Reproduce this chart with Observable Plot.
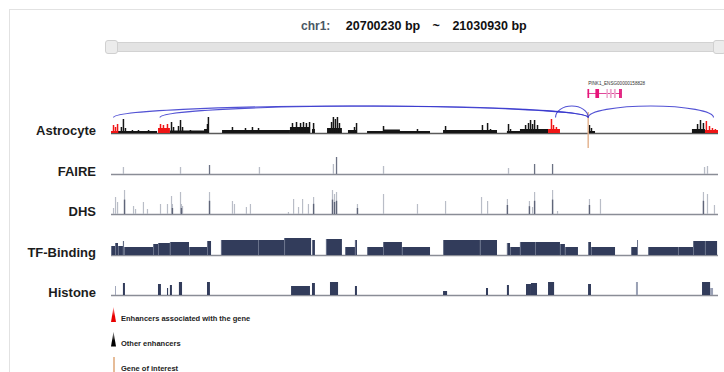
<!DOCTYPE html>
<html><head><meta charset="utf-8">
<script src="https://cdn.jsdelivr.net/npm/d3@7"></script>
<script src="https://cdn.jsdelivr.net/npm/@observablehq/plot@0.6"></script>
<style>
body{margin:0;background:#fff;font-family:Arial,"Liberation Sans",Helvetica,sans-serif;}
#root{position:relative;width:724px;height:372px;overflow:hidden;background:#fff;}
.abs{position:absolute;}
.abs svg{display:block;overflow:visible;}
</style></head><body><div id="root"></div>
<script>
// ---------------- DATA (positions in kb from the window start) ----------------
const chrom = "chr1";
const viewStart = 20700230;
const viewEnd = 21030930;

const trackLabels = ["Astrocyte", "FAIRE", "DHS", "TF-Binding", "Histone"];
const legendLabels = ["Enhancers associated with the gene", "Other enhancers", "Gene of interest"];

const geneLabel = "PINK1_ENSG00000158828";
const geneStartKb = 259.7;
const geneEndKb = 277.8;
// [start, end, tone]
const geneExons = [
  [259.7, 260.5, "dark"], [263.9, 265.9, "dark"], [269.9, 270.7, "light"],
  [271.8, 272.8, "light"], [274.0, 275.0, "light"], [276.8, 277.8, "dark"]
];

// enhancers linked to the gene (arc anchors)
const enhancerLinks = [1.1, 26.4, 241.9, 328.0];

// Astrocyte enhancer blocks: [start, end, height, group]
const astroBlocks = [
  [0.0, 3.8, 2, "assoc"], [3.8, 25.1, 2, "other"], [25.6, 32.1, 5, "assoc"],
  [32.1, 51.2, 2.5, "other"], [50.7, 53.4, 4, "other"], [60.5, 97.5, 3, "other"],
  [97.5, 108.4, 6, "other"], [109.5, 111.1, 4, "other"], [117.7, 125.8, 5, "other"],
  [129.1, 134.0, 3, "other"], [139.5, 173.8, 2, "other"], [148.2, 157.4, 3.5, "other"],
  [180.9, 210.3, 3, "other"], [215.7, 238.1, 2, "other"], [222.8, 238.1, 4, "other"],
  [238.1, 244.6, 4, "assoc"], [259.9, 263.7, 2, "other"], [316.5, 323.6, 4, "other"],
  [323.6, 330.7, 3, "assoc"]
];
// Astrocyte signal peaks: [position, height, group]
const astroPeaks = [
  [1.1, 8, "assoc"], [2.2, 6, "assoc"], [3.3, 9, "assoc"],
  [5.4, 6, "other"], [6.5, 14, "other"], [7.6, 5, "other"], [11.4, 3, "other"], [14.7, 3, "other"], [20.2, 3, "other"],
  [26.7, 9, "assoc"], [28.3, 8, "assoc"], [30.5, 9, "assoc"],
  [32.7, 11, "other"], [33.8, 6, "other"], [36.5, 7, "other"], [37.6, 13, "other"], [38.7, 6, "other"], [43.0, 3, "other"],
  [52.3, 9, "other"], [52.8, 16, "other"],
  [65.9, 6, "other"], [73.0, 5, "other"], [76.8, 6, "other"], [80.1, 5, "other"],
  [98.6, 10, "other"], [100.8, 11, "other"], [103.0, 10, "other"], [104.6, 11, "other"], [106.2, 10, "other"], [107.9, 11, "other"],
  [110.1, 10, "other"],
  [119.9, 11, "other"], [120.9, 16, "other"], [122.0, 14, "other"], [123.1, 16, "other"], [124.2, 10, "other"],
  [132.4, 6, "other"], [133.5, 10, "other"],
  [148.2, 7, "other"], [166.7, 4, "other"],
  [182.0, 7, "other"], [202.1, 8, "other"], [204.9, 10, "other"], [206.5, 4, "other"],
  [216.3, 9, "other"], [217.4, 4, "other"],
  [225.6, 8, "other"], [227.2, 10, "other"], [228.3, 13, "other"], [229.4, 9, "other"], [230.5, 13, "other"], [232.1, 8, "other"],
  [239.7, 14, "assoc"], [240.8, 8, "assoc"], [242.4, 6, "assoc"], [243.5, 4, "assoc"],
  [260.4, 8, "other"], [261.5, 5, "other"],
  [319.3, 9, "other"], [320.9, 13, "other"], [322.5, 10, "other"],
  [324.1, 12, "assoc"], [325.8, 7, "assoc"], [327.4, 5, "assoc"], [329.0, 4, "assoc"]
];

// FAIRE peaks: [position, height, tone]
const fairePeaks = [
  [6.5, 7, "light"], [37.6, 7, "light"], [53.4, 9, "dark"], [80.6, 7, "light"], [120.9, 10, "light"],
  [122.6, 17, "dark"], [148.2, 8, "light"], [216.3, 6, "light"], [230.5, 10, "dark"], [240.3, 10, "dark"],
  [323.1, 7, "light"], [324.7, 8, "light"]
];

// DHS peaks: [position, height, tone]
const dhsPeaks = [
  [1.1, 6, "light"], [2.2, 17, "light"], [3.3, 12, "light"], [7.1, 24, "dark"], [12.0, 8, "light"],
  [13.1, 5, "light"], [17.4, 12, "light"], [19.6, 5, "light"], [26.7, 10, "light"], [30.5, 10, "light"],
  [32.7, 18, "light"], [33.2, 10, "dark"], [37.6, 22, "light"], [38.1, 10, "dark"], [38.7, 8, "light"],
  [53.4, 22, "dark"], [65.9, 13, "light"], [67.0, 10, "light"], [73.5, 7, "light"], [75.7, 10, "light"],
  [96.4, 2, "light"], [99.2, 15, "light"], [101.9, 7, "light"], [104.1, 15, "light"], [107.3, 10, "light"],
  [110.1, 17, "dark"], [120.4, 24, "dark"], [121.5, 20, "dark"], [122.6, 22, "dark"], [134.0, 10, "dark"],
  [148.2, 20, "light"], [166.7, 10, "light"], [182.0, 13, "light"], [201.6, 17, "light"], [204.9, 13, "light"],
  [215.7, 15, "dark"], [227.7, 13, "dark"], [229.4, 7, "light"], [230.5, 22, "dark"], [240.3, 24, "dark"],
  [243.0, 3, "light"], [260.4, 15, "dark"], [266.4, 15, "light"], [322.5, 22, "dark"], [324.7, 20, "light"],
  [328.5, 9, "light"]
];

// TF-Binding blocks: [start, end, height]
const tfBlocks = [
  [0, 2.2, 9], [2.2, 3.8, 12], [3.8, 6.5, 9], [6.5, 7.1, 14], [7.1, 22.9, 8], [22.9, 25.6, 11],
  [25.6, 32.1, 12], [32.1, 42.5, 13], [42.5, 52.3, 8], [52.3, 54.5, 14], [59.9, 80.1, 15], [80.1, 94.3, 15],
  [94.3, 109.0, 17], [109.5, 111.1, 15], [117.1, 125.8, 16], [127.5, 132.9, 8], [132.9, 134.0, 15],
  [139.5, 148.2, 8], [148.2, 158.5, 13], [158.5, 173.8, 8], [180.9, 201.0, 15], [201.0, 210.3, 15],
  [215.7, 217.4, 12], [217.4, 222.8, 8], [222.8, 231.0, 13], [231.0, 244.6, 13], [244.6, 247.3, 11],
  [247.3, 254.4, 8], [259.9, 261.5, 13], [261.5, 274.6, 8], [283.3, 286.6, 8], [286.6, 287.1, 15],
  [292.6, 308.9, 8], [308.9, 317.1, 8], [317.1, 323.6, 14], [323.6, 330.2, 14]
];

// Histone blocks: [start, end, height, tone]
const histoneBlocks = [
  [2.2, 2.7, 9, "light"], [6.5, 7.6, 12, "dark"], [25.6, 27.2, 11, "dark"], [30.5, 31.1, 7, "dark"],
  [32.1, 33.2, 10, "dark"], [37.0, 38.7, 13, "dark"], [52.3, 53.9, 13, "dark"], [98.1, 108.4, 9, "dark"],
  [109.5, 111.1, 12, "dark"], [119.3, 123.7, 13, "dark"], [132.9, 134.0, 9, "dark"], [180.9, 183.1, 4, "dark"],
  [204.3, 205.4, 7, "dark"], [215.7, 216.8, 10, "dark"], [226.1, 228.8, 11, "dark"], [228.8, 232.1, 12, "dark"],
  [238.1, 241.4, 13, "dark"], [259.9, 261.5, 11, "dark"], [286.0, 287.1, 13, "light"], [322.0, 326.4, 13, "dark"],
  [326.4, 328.0, 7, "light"]
];

// ---------------- RENDER ----------------
const root = document.getElementById("root");
const FONT = "Arial, 'Liberation Sans', Helvetica, sans-serif";
const viewLenKb = (viewEnd - viewStart) / 1000;
const W = 724, ML = 111, MR = 6;
const RED = "#f01616", BLACK = "#151515", NAVY = "#323c5b";
const groupColor = g => g === "assoc" ? RED : BLACK;

function el(html) { const d = document.createElement("div"); d.innerHTML = html; return d.firstElementChild; }

// frame lines
root.appendChild(el(`<div class="abs" style="left:9px;top:9px;width:720px;height:1px;background:#e2e2e2"></div>`));
root.appendChild(el(`<div class="abs" style="left:9px;top:9px;width:1px;height:372px;background:#e2e2e2"></div>`));

// title
const fmt = d3.format("d");
root.appendChild(el(`<div class="abs" style="left:301px;top:18px;white-space:nowrap;line-height:14px;">
  <span style="font:bold 12px ${FONT};color:#4a5764">${chrom}:</span>
  <span style="font:bold 12.5px ${FONT};color:#111;margin-left:11px">${fmt(viewStart)} bp</span>
  <span style="font:bold 12.5px ${FONT};color:#111;margin-left:8px">~</span>
  <span style="font:bold 12.5px ${FONT};color:#111;margin-left:8px">${fmt(viewEnd)} bp</span>
</div>`));

// range slider
root.appendChild(el(`<div class="abs" style="left:106px;top:42px;width:614px;height:8px;background:#e3e3e3;border:1px solid #d2d2d2;border-radius:2px"></div>`));
root.appendChild(el(`<div class="abs" style="left:105px;top:40px;width:11px;height:12px;background:#ececec;border:1px solid #d0d0d0;border-radius:3px"></div>`));
root.appendChild(el(`<div class="abs" style="left:713px;top:40px;width:11px;height:12px;background:#ececec;border:1px solid #d0d0d0;border-radius:3px"></div>`));

function place(svg, top) {
  const wrap = document.createElement("div");
  wrap.className = "abs";
  wrap.style.left = "0px";
  wrap.style.top = top + "px";
  wrap.appendChild(svg);
  root.appendChild(wrap);
}

function basePlot(height, marginTop, marginBottom, marks) {
  return Plot.plot({
    width: W, height, marginLeft: ML, marginRight: MR, marginTop, marginBottom,
    x: {domain: [0, viewLenKb], axis: null},
    y: {domain: [0, height - marginTop - marginBottom], axis: null},
    style: {fontFamily: FONT, background: "transparent", overflow: "visible"},
    marks
  });
}

function labelMark(label) {
  return Plot.text([label], {
    text: d => d, frameAnchor: "bottom-left", textAnchor: "end", lineAnchor: "bottom",
    dx: -15.5, dy: 1.5, fontSize: 13, fontWeight: "bold", fill: "#1c1c1c"
  });
}

// elliptical arc curve for enhancer-gene links
const ARC_HEIGHT = 11.5;
function arcCurve(context) {
  let pts = [];
  return {
    areaStart() {}, areaEnd() {},
    lineStart() { pts = []; },
    point(x, y) { pts.push([+x, +y]); },
    lineEnd() {
      if (pts.length < 2) return;
      const [x0, y0] = pts[0], [x1, y1] = pts[pts.length - 1];
      const rx = (x1 - x0) / 2, xm = (x0 + x1) / 2, k = 0.5523, top = Math.min(y0, y1) - ARC_HEIGHT;
      context.moveTo(x0, y0);
      context.bezierCurveTo(x0, y0 - k * (y0 - top), xm - k * rx, top, xm, top);
      context.bezierCurveTo(xm + k * rx, top, x1, y1 - k * (y1 - top), x1, y1);
    }
  };
}

// gene annotation
place(basePlot(24, 13, 2, [
  Plot.rect([geneStartKb], {x1: () => geneStartKb, x2: () => geneEndKb, insetTop: 4, insetBottom: 4, fill: "#e0479a"}),
  Plot.ruleX([geneStartKb, geneEndKb], {stroke: "#d81c7c", strokeWidth: 1}),
  Plot.rect(geneExons, {x1: d => d[0], x2: d => d[1], fill: d => d[2] === "dark" ? "#e8157a" : "#eca6cc"}),
  Plot.text([geneLabel], {x: () => geneStartKb, text: d => d, frameAnchor: "top", textAnchor: "start", lineAnchor: "bottom", dy: -5, fontSize: 4.6, fill: "#333"})
]), 76);

// Astrocyte
const arcY = d3.max(astroPeaks, d => d[1]);
place(basePlot(50, 0, 17, [
  Plot.ruleY([0], {stroke: "#5a5a5a", strokeWidth: 1.3}),
  Plot.rectY(astroBlocks, {x1: d => d[0], x2: d => d[1], y: d => d[2], fill: d => groupColor(d[3])}),
  Plot.ruleX(astroPeaks, {x: d => d[0], y1: 0, y2: d => d[1], stroke: d => groupColor(d[2]), strokeWidth: 1.5}),
  Plot.ruleX([geneStartKb], {x: d => d, stroke: "#e3b08a", strokeWidth: 1.4, insetTop: 12, insetBottom: -15}),
  Plot.link(enhancerLinks, {x1: d => d, x2: () => geneStartKb, y1: () => arcY, y2: () => arcY, curve: arcCurve,
    stroke: "#3434cc", strokeWidth: 1.1, strokeOpacity: 0.85}),
  labelMark(trackLabels[0])
]), 100);

// FAIRE
place(basePlot(30, 0, 6, [
  Plot.ruleY([0], {stroke: "#8a8d96", strokeWidth: 1.6}),
  Plot.ruleX(fairePeaks, {x: d => d[0], y1: 0, y2: d => d[1], stroke: d => d[2] === "dark" ? "#6c7284" : "#b8bcc6", strokeWidth: 1.3}),
  labelMark(trackLabels[1])
]), 150);

// DHS
place(basePlot(36, 0, 6, [
  Plot.ruleY([0], {stroke: "#8a8d96", strokeWidth: 1.6}),
  Plot.ruleX(dhsPeaks, {x: d => d[0], y1: 0, y2: d => d[1], stroke: "#b9bdc7", strokeWidth: 1.2}),
  Plot.ruleX(dhsPeaks.filter(d => d[2] === "dark"), {x: d => d[0], y1: 0, y2: d => d[1] * 0.6, stroke: "#5f6579", strokeWidth: 1.4}),
  labelMark(trackLabels[2])
]), 184);

// TF-Binding
place(basePlot(36, 0, 6, [
  Plot.ruleY([0], {stroke: "#8a8d96", strokeWidth: 1.6}),
  Plot.rectY(tfBlocks, {x1: d => d[0], x2: d => d[1], y: d => d[2], fill: NAVY}),
  Plot.ruleX(tfBlocks, {x: d => d[0], y1: 0, y2: d => d[2], stroke: "#8f97ab", strokeWidth: 0.6}),
  labelMark(trackLabels[3])
]), 225);

// Histone
place(basePlot(36, 0, 6, [
  Plot.ruleY([0], {stroke: "#8a8d96", strokeWidth: 1.6}),
  Plot.rectY(histoneBlocks, {x1: d => d[0], x2: d => d[1], y: d => d[2], fill: d => d[3] === "dark" ? NAVY : "#9aa1b5"}),
  labelMark(trackLabels[4])
]), 265);

// legend
const legendTops = [307, 331.5, 357];
const icons = [
  `<div class="abs" style="left:111px;top:${legendTops[0]}px;width:5px;height:15px;background:linear-gradient(#ff9c9c,#e80000 60%);clip-path:polygon(50% 0,100% 100%,0 100%)"></div>`,
  `<div class="abs" style="left:111px;top:${legendTops[1]}px;width:5px;height:15px;background:linear-gradient(#9a9a9a,#000 60%);clip-path:polygon(50% 0,100% 100%,0 100%)"></div>`,
  `<div class="abs" style="left:112.5px;top:${legendTops[2]}px;width:2px;height:16px;background:#e6bc98"></div>`
];
icons.forEach(h => root.appendChild(el(h)));
legendLabels.forEach((t, i) => {
  root.appendChild(el(`<div class="abs" style="left:121px;top:${legendTops[i] + 7}px;font:bold 7.5px ${FONT};line-height:9px;color:#222;white-space:nowrap">${t}</div>`));
});
</script></body></html>
